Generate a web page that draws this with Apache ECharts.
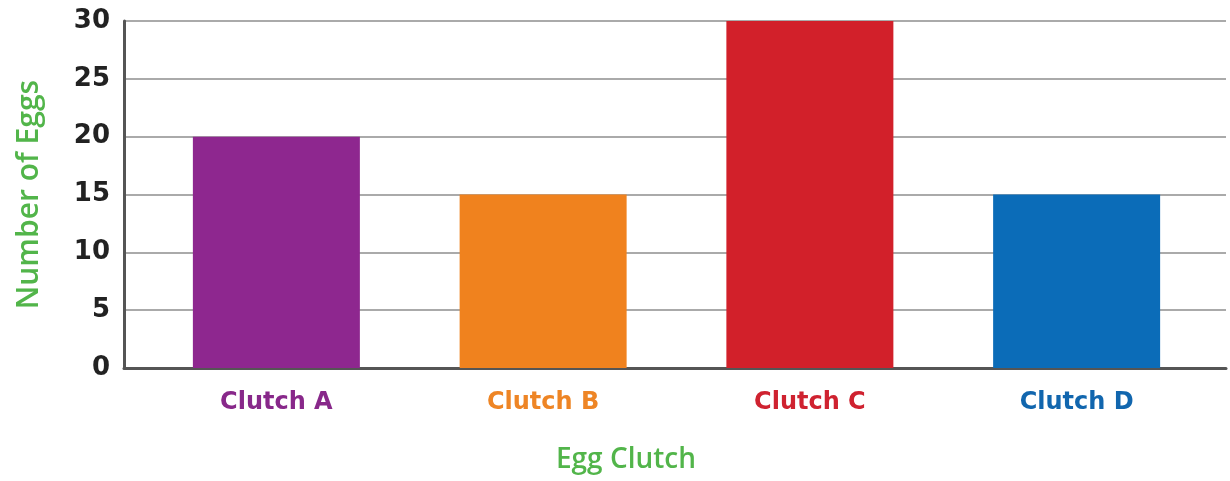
<!DOCTYPE html>
<html>
<head>
<meta charset="utf-8">
<script src="https://cdn.jsdelivr.net/npm/echarts@6/dist/echarts.min.js"></script>
<style>html,body{margin:0;padding:0;background:#fff;}#c{width:1230px;height:481px;}</style>
</head>
<body>
<div id="c"></div>
<script>
const categories = ['Clutch A', 'Clutch B', 'Clutch C', 'Clutch D'];
const eggs = [20, 15, 30, 15];
const barColors = ['#8E278F', '#F0821E', '#D2202A', '#0B6CB8'];
const labelColors = ['#88288A', '#EE8525', '#CF2230', '#1166AE'];
const yTicks = { min: 0, max: 30, interval: 5 };
const xTitle = 'Egg Clutch';
const yTitle = 'Number of Eggs';

const chart = echarts.init(document.getElementById('c'));
const green = '#52B54A';
chart.setOption({
  animation: false,
  title: {
    text: xTitle, left: 621, top: 441, textAlign: 'center',
    textStyle: { color: green, fontSize: 28, fontWeight: 600, fontFamily: 'Open Sans' }
  },
  grid: [
    { left: 124, right: 4, top: 21, bottom: 113 },
    { left: 143, right: 20, top: 21, bottom: 113 }
  ],
  xAxis: [
    { type: 'category', gridIndex: 0, data: categories,
      axisLine: { show: true, lineStyle: { color: '#555', width: 3 } },
      axisTick: { show: false }, axisLabel: { show: false }, splitLine: { show: false } },
    { type: 'category', gridIndex: 1, data: categories,
      axisLine: { show: false }, axisTick: { show: false },
      axisLabel: {
        margin: 23, fontSize: 24, fontWeight: 'bold', fontFamily: 'DejaVu Sans',
        color: (v, i) => labelColors[i]
      } }
  ],
  yAxis: [
    { type: 'value', gridIndex: 0, min: yTicks.min, max: yTicks.max, interval: yTicks.interval,
      name: yTitle, nameLocation: 'middle', nameGap: 80, nameRotate: 90,
      nameTextStyle: { color: green, fontSize: 30, fontWeight: 600, fontFamily: 'Open Sans' },
      axisLine: { show: true, lineStyle: { color: '#555', width: 3 } },
      axisTick: { show: false },
      axisLabel: { margin: 14, fontSize: 26, fontWeight: 'bold', color: '#222', fontFamily: 'DejaVu Sans' },
      splitLine: { show: true, lineStyle: { color: '#aaa', width: 2 } } },
    { type: 'value', gridIndex: 1, min: yTicks.min, max: yTicks.max, interval: yTicks.interval,
      axisLine: { show: false }, axisTick: { show: false }, axisLabel: { show: false }, splitLine: { show: false } }
  ],
  series: [{
    type: 'bar', xAxisIndex: 1, yAxisIndex: 1, barWidth: 167,
    data: eggs.map((v, i) => ({ value: v, itemStyle: { color: barColors[i] } })),
    z: 3
  }]
});
</script>
</body>
</html>
